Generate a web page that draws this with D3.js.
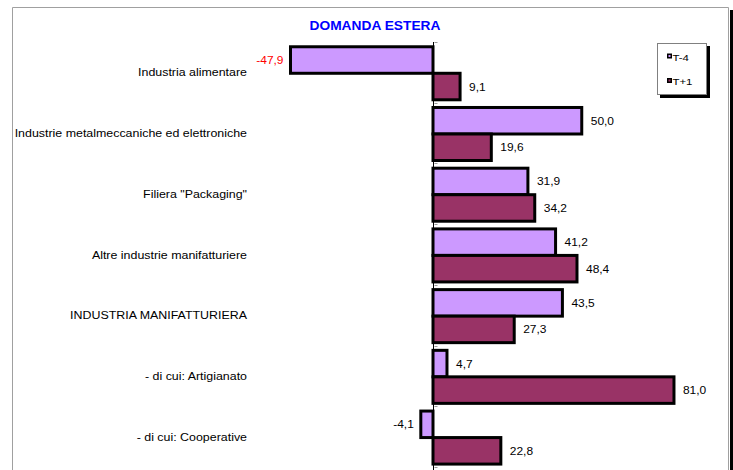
<!DOCTYPE html>
<html>
<head>
<meta charset="utf-8">
<script src="https://cdn.jsdelivr.net/npm/d3@7"></script>
<style>
  body { margin: 0; background: #fff; }
  text { font-family: "Liberation Sans", Arial, sans-serif; }
</style>
</head>
<body>
<div id="chart"></div>
<script>
// Chart data
var categories = [
    "Industria alimentare",
    "Industrie metalmeccaniche ed elettroniche",
    "Filiera \"Packaging\"",
    "Altre industrie manifatturiere",
    "INDUSTRIA MANIFATTURIERA",
    "- di cui: Artigianato",
    "- di cui: Cooperative"
];
var seriesNames = ["T-4", "T+1"];
var valuesT4 = [-47.9, 50.0, 31.9, 41.2, 43.5, 4.7, -4.1];
var valuesT1 = [9.1, 19.6, 34.2, 48.4, 27.3, 81.0, 22.8];
// labels printed in red in the original
var redLabels = ["-47,9"];

var svgWidth = 733;
var svgHeight = 470;

var colors = { "T-4": "#CC99FF", "T+1": "#993366" };

var svg = d3.select("#chart")
    .append("svg")
    .attr("width", svgWidth)
    .attr("height", svgHeight);

// Text in the original is a bit wider than the font, so stretch it horizontally
function stretched(sel, sx) {
    return sel.attr("transform", function() {
        var t = d3.select(this);
        var x = +t.attr("data-x"), y = +t.attr("data-y");
        return `translate(${x}, ${y}) scale(${sx}, 1)`;
    });
}

// Outer frame: gray top/left/right lines and black shadow on the right
svg.append("rect")
    .attr("x", 730).attr("y", 10)
    .attr("width", 4).attr("height", svgHeight)
    .attr("fill", "#000");
svg.append("path")
    .attr("d", "M12.5,470 V7.5 H728.5 V470")
    .attr("fill", "none")
    .attr("stroke", "#a0a0a0")
    .attr("stroke-width", 1);

// Title
svg.append("text")
    .attr("transform", "translate(375, 30) scale(1.06, 1)")
    .attr("text-anchor", "middle")
    .style("font-size", "13px")
    .style("font-weight", "bold")
    .style("fill", "#0000FF")
    .text("DOMANDA ESTERA");

// Scales
var xScale = d3.scaleLinear()
    .domain([-60, 90])
    .range([254.5, 700.75]);

var yScale = d3.scaleBand()
    .domain(categories)
    .range([42, 467])
    .padding(0);

var ySub = d3.scaleBand()
    .domain(seriesNames)
    .range([0, yScale.bandwidth()])
    .paddingInner(0)
    .paddingOuter(0.145)
    .align(0.62);

var locale = d3.formatLocale({ decimal: ",", thousands: ".", grouping: [3], currency: ["", "€"], minus: "-" });
var fmt = locale.format(".1f");

// Rows of data
var rows = [];
categories.forEach(function(c, i) {
    rows.push({ cat: c, series: "T-4", value: valuesT4[i] });
    rows.push({ cat: c, series: "T+1", value: valuesT1[i] });
});

var x0 = Math.round(xScale(0)) + 0.5;

// Bars
svg.selectAll("rect.bar")
    .data(rows)
    .enter()
    .append("rect")
    .attr("class", "bar")
    .attr("x", d => xScale(Math.min(0, d.value)))
    .attr("y", d => yScale(d.cat) + ySub(d.series))
    .attr("width", d => Math.abs(xScale(d.value) - xScale(0)))
    .attr("height", ySub.bandwidth())
    .attr("fill", d => colors[d.series])
    .attr("stroke", "#000")
    .attr("stroke-width", 3);

// Vertical axis at zero
svg.append("line")
    .attr("x1", x0).attr("x2", x0)
    .attr("y1", 42).attr("y2", 470)
    .attr("stroke", "#000")
    .attr("stroke-width", 1);

// small tick marks at category boundaries
var boundaries = categories.map(c => yScale(c)).concat([yScale.range()[1]]);
svg.selectAll("line.tick")
    .data(boundaries)
    .enter()
    .append("line")
    .attr("class", "tick")
    .attr("x1", x0 + 1).attr("x2", x0 + 4)
    .attr("y1", d => Math.round(d) + 0.5)
    .attr("y2", d => Math.round(d) + 0.5)
    .attr("stroke", "#999")
    .attr("stroke-width", 1);

// Category labels
svg.selectAll("text.cat")
    .data(categories)
    .enter()
    .append("text")
    .attr("class", "cat")
    .attr("data-x", 247)
    .attr("data-y", d => yScale(d) + yScale.bandwidth() / 2)
    .attr("dy", "0.35em")
    .attr("text-anchor", "end")
    .style("font-size", "11.5px")
    .style("fill", "#000")
    .text(d => d)
    .call(stretched, 1.08);

// Value labels
svg.selectAll("text.val")
    .data(rows)
    .enter()
    .append("text")
    .attr("class", "val")
    .attr("data-x", d => d.value < 0 ? xScale(d.value) - 7 : xScale(d.value) + 9)
    .attr("data-y", d => yScale(d.cat) + ySub(d.series) + ySub.bandwidth() / 2)
    .attr("dy", "0.35em")
    .attr("text-anchor", d => d.value < 0 ? "end" : "start")
    .style("font-size", "11.5px")
    .style("fill", d => redLabels.indexOf(fmt(d.value)) >= 0 ? "#FF0000" : "#000")
    .text(d => fmt(d.value))
    .call(stretched, 1.04);

// Legend
var legend = svg.append("g")
    .attr("transform", "translate(657, 43)");

legend.append("rect")
    .attr("x", 3).attr("y", 3)
    .attr("width", 50).attr("height", 52)
    .attr("fill", "#000");
legend.append("rect")
    .attr("x", 0.5).attr("y", 0.5)
    .attr("width", 49).attr("height", 51)
    .attr("fill", "#fff")
    .attr("stroke", "#808080")
    .attr("stroke-width", 1);

var items = legend.selectAll("g.item")
    .data(seriesNames)
    .enter()
    .append("g")
    .attr("class", "item")
    .attr("transform", (d, i) => `translate(10, ${13 + i * 24.5})`);

items.append("rect")
    .attr("x", 0).attr("y", -2.5)
    .attr("width", 5).attr("height", 5)
    .attr("fill", "#000");
items.append("rect")
    .attr("x", 1.5).attr("y", -1)
    .attr("width", 2).attr("height", 2)
    .attr("fill", d => colors[d]);
items.append("text")
    .attr("data-x", 5.5)
    .attr("data-y", 1.3)
    .attr("dy", "0.35em")
    .style("font-size", "9.5px")
    .style("fill", "#000")
    .text(d => d)
    .call(stretched, 1.2);
</script>
</body>
</html>
